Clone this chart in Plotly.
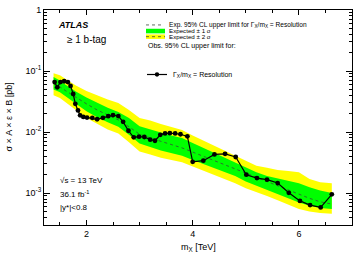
import plotly.graph_objects as go

# ---------------- data ----------------
obs_mass = [1.40, 1.45, 1.51, 1.58, 1.65, 1.70, 1.75, 1.79, 1.84, 1.88, 1.94, 2.01, 2.11,
            2.20, 2.31, 2.41, 2.50, 2.60, 2.69, 2.79, 2.89, 2.99, 3.09, 3.20, 3.29, 3.39,
            3.48, 3.57, 3.67, 3.77, 3.90, 4.00, 4.20, 4.41, 4.61, 4.81, 5.01, 5.21, 5.40,
            5.60, 5.81, 6.02, 6.21, 6.41, 6.62]
obs_limit = [0.066, 0.054, 0.066, 0.068, 0.066, 0.057, 0.042, 0.029, 0.0226, 0.0188, 0.0177,
             0.0173, 0.0171, 0.0162, 0.0171, 0.0182, 0.0190, 0.0183, 0.0147, 0.0105, 0.0082,
             0.0084, 0.0083, 0.0075, 0.0072, 0.0090, 0.0095, 0.0096, 0.0095, 0.0092, 0.0085,
             0.00325, 0.00340, 0.0043, 0.0044, 0.0039, 0.0020, 0.00176, 0.00166, 0.00146,
             0.00101, 0.000745, 0.000636, 0.000582, 0.000953]

exp_mass = [1.38, 1.5, 1.6, 1.8, 2.0, 2.2, 2.4, 2.6, 2.8, 3.0, 3.2, 3.4, 3.6, 3.8, 4.0,
            4.2, 4.4, 4.6, 4.8, 5.0, 5.2, 5.4, 5.6, 5.8, 6.0, 6.2, 6.4, 6.62]
exp_limit = [0.062, 0.055, 0.048, 0.037, 0.029, 0.023, 0.019, 0.0158, 0.0122, 0.0092, 0.0080,
             0.0071, 0.0063, 0.0055, 0.0047, 0.0040, 0.0034, 0.0029, 0.0025, 0.0021, 0.0018,
             0.00155, 0.00133, 0.00113, 0.00095, 0.00082, 0.00072, 0.00066]
exp_1s_lo = [0.050, 0.045, 0.039, 0.029, 0.022, 0.0175, 0.0145, 0.0122, 0.0090, 0.0065, 0.0057,
             0.0050, 0.0045, 0.0041, 0.0035, 0.0030, 0.0026, 0.0022, 0.0019, 0.00155, 0.00135,
             0.00115, 0.00098, 0.00082, 0.00070, 0.00062, 0.00057, 0.00055]
exp_1s_hi = [0.080, 0.070, 0.060, 0.046, 0.037, 0.030, 0.025, 0.0213, 0.0170, 0.0125, 0.0110,
             0.0098, 0.0088, 0.0080, 0.0066, 0.0055, 0.0046, 0.0038, 0.0032, 0.0026, 0.0022,
             0.0019, 0.00175, 0.0016, 0.00145, 0.00125, 0.00110, 0.00100]
exp_2s_lo = [0.040, 0.036, 0.031, 0.023, 0.017, 0.0135, 0.0110, 0.0095, 0.0068, 0.0048, 0.0043,
             0.0038, 0.0035, 0.0032, 0.0027, 0.0023, 0.0020, 0.0017, 0.00145, 0.00120, 0.00105,
             0.00090, 0.00076, 0.00064, 0.00055, 0.00050, 0.00047, 0.00046]
exp_2s_hi = [0.092, 0.085, 0.075, 0.058, 0.047, 0.040, 0.034, 0.030, 0.023, 0.017, 0.0155,
             0.0135, 0.0120, 0.0108, 0.0088, 0.0073, 0.0060, 0.0050, 0.0042, 0.0034, 0.0028,
             0.0026, 0.0024, 0.0023, 0.0022, 0.0017, 0.0015, 0.00145]

y_tickvals = [1e-3, 1e-2, 1e-1, 1]
y_ticktext = ["10<sup>-3</sup>", "10<sup>-2</sup>", "10<sup>-1</sup>", "1"]
x_tickvals = [2, 4, 6]
x_ticktext = ["2", "4", "6"]

FONT = "Liberation Sans, Arial, Helvetica, sans-serif"
GREEN = "#00ff00"
YELLOW = "#ffff00"
EXPCOL = "#3a4a3a"

fig = go.Figure()

# ±2 sigma band
fig.add_trace(go.Scatter(
    x=exp_mass + exp_mass[::-1], y=exp_2s_hi + exp_2s_lo[::-1],
    fill="toself", fillcolor=YELLOW, line=dict(width=0), mode="lines",
    hoverinfo="skip", showlegend=False))
# ±1 sigma band
fig.add_trace(go.Scatter(
    x=exp_mass + exp_mass[::-1], y=exp_1s_hi + exp_1s_lo[::-1],
    fill="toself", fillcolor=GREEN, line=dict(width=0), mode="lines",
    hoverinfo="skip", showlegend=False))
# expected
fig.add_trace(go.Scatter(
    x=exp_mass, y=exp_limit, mode="lines",
    line=dict(color=EXPCOL, width=0.8, dash="dot"), showlegend=False))
# observed
fig.add_trace(go.Scatter(
    x=obs_mass, y=obs_limit, mode="lines+markers",
    line=dict(color="black", width=1.2),
    marker=dict(color="black", size=4.8), showlegend=False))

fig.update_layout(
    width=358, height=255,
    margin=dict(l=44, r=6, t=5, b=30),
    paper_bgcolor="white", plot_bgcolor="white",
    font=dict(family=FONT, size=9, color="black"),
    showlegend=False,
)
fig.update_xaxes(
    range=[1.2, 7.0], tickvals=x_tickvals, ticktext=x_ticktext,
    ticks="inside", ticklen=5, tickwidth=1, tickcolor="black",
    showline=True, linecolor="black", linewidth=1, mirror="allticks",
    showgrid=False, zeroline=False, tickfont=dict(size=9),
    minor=dict(ticks="inside", ticklen=3, dtick=0.5, tick0=0, tickcolor="black", showgrid=False),
)
fig.update_yaxes(
    type="log", range=[-3.523, 0], tickvals=y_tickvals, ticktext=y_ticktext,
    ticks="inside", ticklen=6, tickwidth=1, tickcolor="black",
    showline=True, linecolor="black", linewidth=1, mirror="allticks",
    showgrid=False, zeroline=False, tickfont=dict(size=9),
    minor=dict(ticks="inside", ticklen=3, dtick="D1", tickcolor="black", showgrid=False),
)

def px2x(px):
    return (px - 44) / 308.0

def py2y(py):
    return 1 - (py - 5) / 220.0

ann = []
def text(px, py, s, size=7, xanchor="left", angle=0):
    ann.append(dict(x=px2x(px), y=py2y(py), xref="paper", yref="paper", text=s,
                    showarrow=False, xanchor=xanchor, yanchor="middle",
                    font=dict(size=size, family=FONT, color="black"), textangle=angle))

text(56, 20, "<b><i>ATLAS</i></b>", size=9)
text(65, 35, "≥ 1 b-tag", size=10)
text(58, 179, "√s = 13 TeV", size=8)
text(58, 193, "36.1 fb<sup>-1</sup>", size=8)
text(58, 207, "|y*|<0.8", size=8)
text(167, 20.2, "Exp. 95% CL upper limit for Γ<sub>X</sub>/m<sub>X</sub> = Resolution", size=6.6)
text(167, 26.3, "Expected ± 1 σ", size=6.2)
text(167, 32.4, "Expected ± 2 σ", size=6.2)
text(146, 42, "Obs. 95% CL upper limit for:", size=7)
text(171, 71, "Γ<sub>X</sub>/m<sub>X</sub> = Resolution", size=7)
# axis titles
text(8, 115, "σ × A × ε × B [pb]", size=9, xanchor="center", angle=-90)
text(198, 248, "m<sub>X</sub> [TeV]", size=9, xanchor="center")
fig.update_layout(annotations=ann)

shapes = []
def rect(x0, y0, x1, y1, color):
    shapes.append(dict(type="rect", xref="paper", yref="paper",
                       x0=px2x(x0), x1=px2x(x1), y0=py2y(y1), y1=py2y(y0),
                       fillcolor=color, line=dict(width=0), layer="above"))
def hline(x0, x1, y, color="black", dash="solid", width=1):
    shapes.append(dict(type="line", xref="paper", yref="paper",
                       x0=px2x(x0), x1=px2x(x1), y0=py2y(y), y1=py2y(y),
                       line=dict(color=color, dash=dash, width=width), layer="above"))

hline(146, 164, 20.3, color=EXPCOL, dash="dot", width=0.8)
rect(146, 24.2, 165, 28.9, GREEN)
rect(146, 30.0, 165, 34.6, YELLOW)
hline(146, 165, 32.3, color=EXPCOL, dash="dot", width=0.8)
hline(147, 167, 71, color="black", width=1.2)
shapes.append(dict(type="circle", xref="paper", yref="paper",
                   x0=px2x(154.8), x1=px2x(159.2), y0=py2y(73.2), y1=py2y(68.8),
                   fillcolor="black", line=dict(width=0), layer="above"))
fig.update_layout(shapes=shapes)

fig.write_html("out.html")
